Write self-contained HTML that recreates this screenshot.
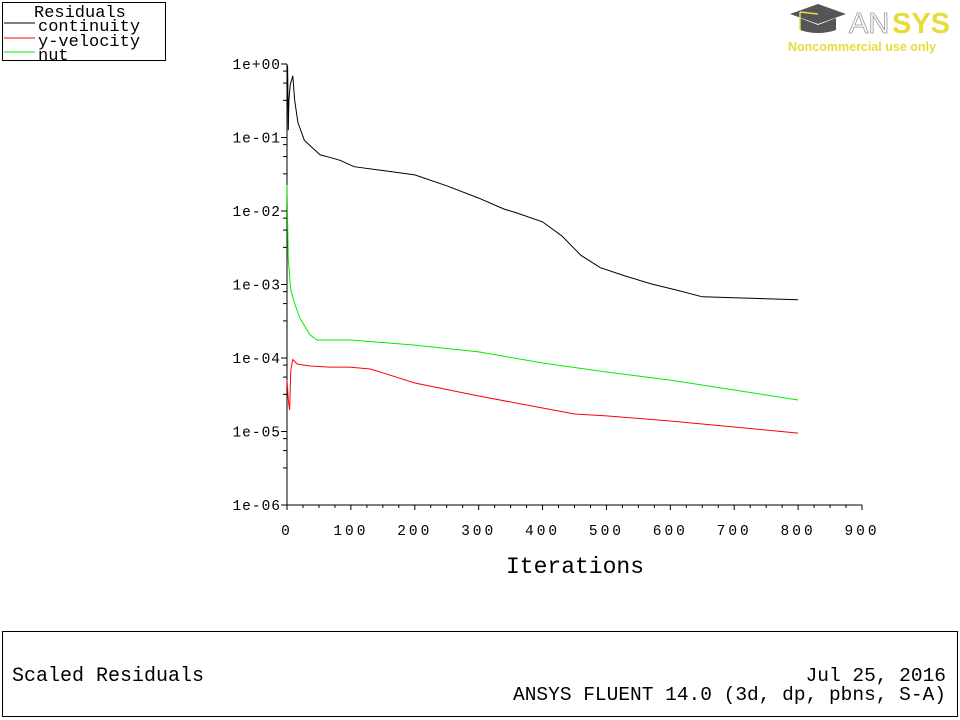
<!DOCTYPE html>
<html><head><meta charset="utf-8"><style>
html,body{margin:0;padding:0;background:#fff;width:960px;height:720px;overflow:hidden}
svg{display:block}
text{font-family:"Liberation Mono",monospace;fill:#000}
</style></head><body>
<svg id="chart" width="960" height="720" viewBox="0 0 960 720" xmlns="http://www.w3.org/2000/svg">
<g>
<rect x="2.5" y="2.5" width="163" height="58" fill="#fff" stroke="#000"/>
<text x="34" y="17" font-size="17">Residuals</text>
<line x1="4" y1="23" x2="35" y2="23" stroke="#000"/><text x="38" y="31" font-size="17">continuity</text>
<line x1="4" y1="38" x2="35" y2="38" stroke="#f00"/><text x="38" y="46" font-size="17">y-velocity</text>
<line x1="4" y1="52" x2="35" y2="52" stroke="#0e0"/><text x="38" y="60" font-size="17">nut</text>
</g>
<g>
<path d="M790 14 L818 4 L846 14 L818 24 Z" fill="#555"/>
<path d="M800 18 L800 30 Q818 36 836 30 L836 18 L818 25 Z" fill="#555"/>
<line x1="818" y1="14" x2="800" y2="12" stroke="#e8d84a" stroke-width="1.5"/><line x1="800" y1="12" x2="800" y2="30" stroke="#e8d84a" stroke-width="1.5"/>
<text x="849" y="33" style="font-family:'Liberation Sans',sans-serif;font-size:29px;fill:#fff;stroke:#999;stroke-width:0.8">AN</text>
<text x="892" y="33" style="font-family:'Liberation Sans',sans-serif;font-size:29px;font-weight:bold;fill:#e8dc3a">SYS</text>
<text x="788" y="51" style="font-family:'Liberation Sans',sans-serif;font-size:12.5px;font-weight:bold;fill:#e8dc3a">Noncommercial use only</text>
</g>
<g id="axes"></g>
<g id="series"></g>
<text x="575" y="573" font-size="23" text-anchor="middle">Iterations</text>
<g>
<rect x="2.5" y="631.5" width="955" height="85" fill="#fff" stroke="#000"/>
<text x="12" y="681" font-size="20">Scaled Residuals</text>
<text x="946" y="681" font-size="19.5" text-anchor="end">Jul 25, 2016</text>
<text x="946" y="700" font-size="19.5" text-anchor="end">ANSYS FLUENT 14.0 (3d, dp, pbns, S-A)</text>
</g>
</svg>
<script>
const xTicks=[0,100,200,300,400,500,600,700,800,900];
const yTickLabels=["1e+00","1e-01","1e-02","1e-03","1e-04","1e-05","1e-06"];
const contIter=[0,1,2,3,5,9,12,17,27,40,52,66,83,105,145,200,250,300,340,360,400,430,460,490,530,570,610,650,700,750,800];
const contVal=[0.44,0.95,0.126,0.32,0.52,0.69,0.32,0.16,0.092,0.072,0.058,0.054,0.049,0.040,0.036,0.031,0.022,0.015,0.0106,0.0094,0.0071,0.0046,0.0025,0.0017,0.0013,0.00102,0.00084,0.00068,0.00066,0.00064,0.00062];
const velIter=[0,2,4,6,9,16,36,67,98,130,146,200,300,400,450,500,600,700,800];
const velVal=[0.000050,0.0000268,0.0000196,0.0000687,0.0000955,0.0000828,0.0000778,0.0000753,0.0000753,0.0000708,0.0000645,0.0000457,0.0000304,0.0000209,0.0000173,0.0000163,0.0000139,0.0000115,0.0000095];
const nutIter=[0,1,2,6,13,20,36,47,100,200,300,400,500,600,700,800];
const nutVal=[0.0226,0.0075,0.00215,0.00084,0.00052,0.00035,0.000206,0.000176,0.000176,0.000150,0.000121,0.0000855,0.0000645,0.000050,0.0000367,0.0000268];

const X0=287,X1=862,XMAX=900,Y0=64,DEC=73.5;
const xs=v=>X0+(X1-X0)*v/XMAX;
const ys=v=>Y0-DEC*Math.log10(v);
const NS="http://www.w3.org/2000/svg";
function mk(t,a,p){const e=document.createElementNS(NS,t);for(const k in a)e.setAttribute(k,a[k]);p.appendChild(e);return e;}
const ax=document.getElementById('axes');
const yl=mk('line',{x1:X0,y1:Y0,x2:X0,y2:505,stroke:'#000'},ax);


const xl=mk('line',{x1:X0-2,y1:505,x2:X1,y2:505,stroke:'#000'},ax);


yTickLabels.forEach((lab,i)=>{
  const y=Y0+DEC*i;
  mk('line',{x1:X0-6,y1:y,x2:X0,y2:y,stroke:'#000'},ax);
  if(i<yTickLabels.length-1){[0.8,0.55,0.32].forEach(f=>{const yy=y+DEC*(-Math.log10(f));mk('line',{x1:X0-4,y1:yy,x2:X0,y2:yy,stroke:'#000'},ax);});}
  const t=mk('text',{x:X0-6,y:y+5,'font-size':14.5,'text-anchor':'end','letter-spacing':'1'},ax);
  t.textContent=lab;
  
  
});
xTicks.forEach((v,i)=>{
  const x=xs(v);
  mk('line',{x1:x,y1:505,x2:x,y2:510,stroke:'#000'},ax);
  if(i<xTicks.length-1){for(let k=1;k<4;k++){const xx=xs(v+25*k);mk('line',{x1:xx,y1:505,x2:xx,y2:508,stroke:'#000'},ax);}}
  const t=mk('text',{x:x,y:535,'font-size':14.5,'text-anchor':'middle','letter-spacing':'3'},ax);
  t.textContent=String(v);
  
  
});
const sg=document.getElementById('series');
function line(it,vals,col,name){
  const d=it.map((v,i)=>(i?'L':'M')+xs(v).toFixed(1)+' '+ys(vals[i]).toFixed(1)).join(' ');
  const p=mk('path',{d:d,fill:'none',stroke:col,'stroke-width':1},sg);
  
  
}
line(nutIter,nutVal,'#0e0','nut-line');
line(velIter,velVal,'#f00','y-velocity-line');
line(contIter,contVal,'#000','continuity-line');
</script>
</body></html>
